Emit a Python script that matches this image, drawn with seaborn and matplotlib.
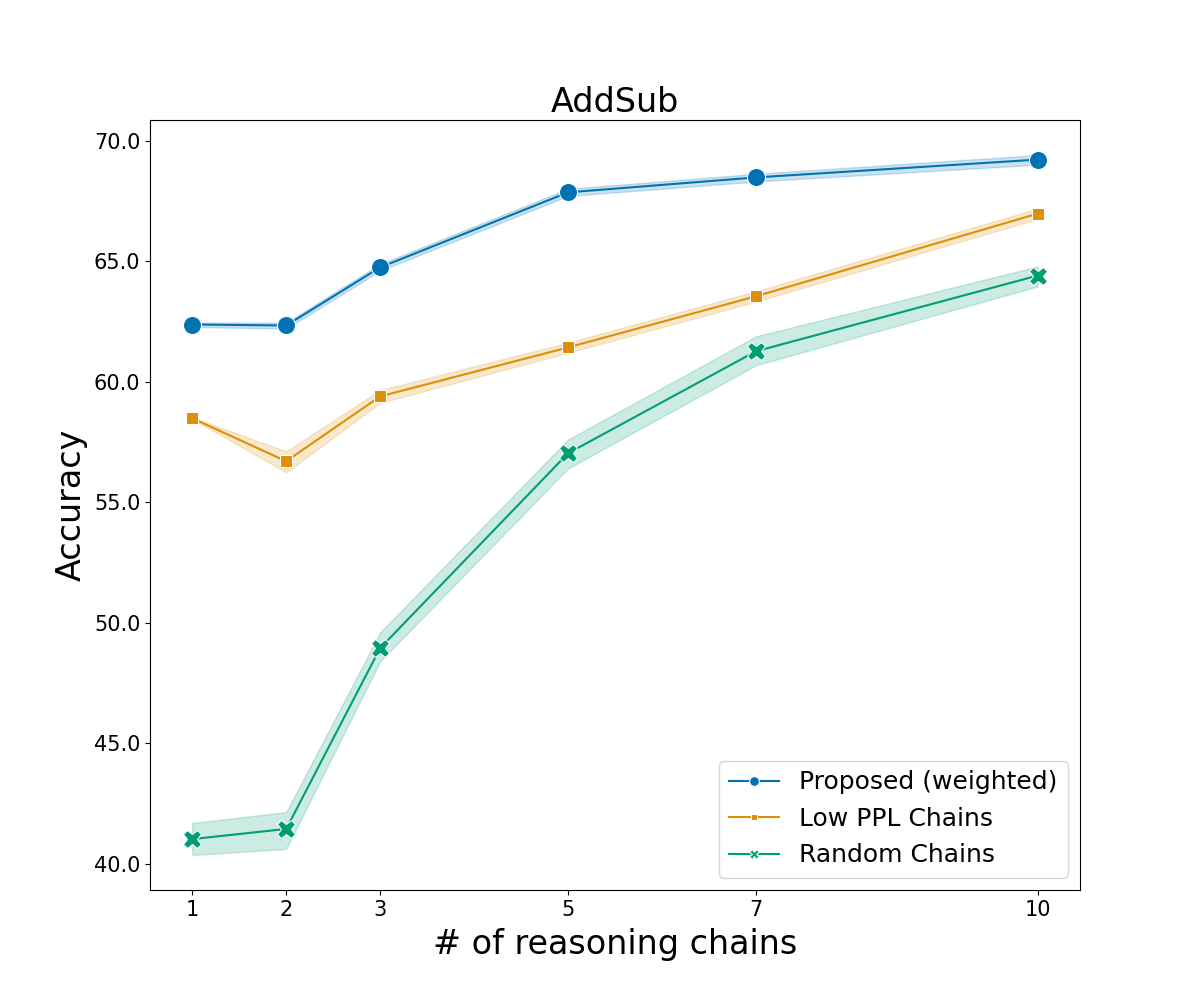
import pandas as pd
import seaborn as sns
import matplotlib.pyplot as plt
from matplotlib.ticker import FormatStrFormatter

# x values (number of reasoning chains)
chains = [1, 2, 3, 5, 7, 10]

# series: centre line, lower and upper edge of the band
proposed_mid = [62.37, 62.33, 64.74, 67.85, 68.47, 69.21]
proposed_lo = [62.27, 62.20, 64.60, 67.70, 68.30, 69.00]
proposed_hi = [62.45, 62.45, 64.88, 68.00, 68.62, 69.40]

lowppl_mid = [58.48, 56.70, 59.39, 61.42, 63.54, 66.97]
lowppl_lo = [58.45, 56.24, 59.12, 61.20, 63.32, 66.75]
lowppl_hi = [58.52, 57.11, 59.65, 61.62, 63.75, 67.18]

random_mid = [41.03, 41.45, 48.95, 57.03, 61.26, 64.40]
random_lo = [40.37, 40.62, 48.40, 56.40, 60.68, 63.95]
random_hi = [41.70, 42.15, 49.60, 57.60, 61.88, 64.78]

methods = ["Proposed (weighted)", "Low PPL Chains", "Random Chains"]

# long table: three observations per point (low, mid, high)
rows = []
for name, lo, mid, hi in [
    (methods[0], proposed_lo, proposed_mid, proposed_hi),
    (methods[1], lowppl_lo, lowppl_mid, lowppl_hi),
    (methods[2], random_lo, random_mid, random_hi),
]:
    for i, x in enumerate(chains):
        for v in (lo[i], mid[i], hi[i]):
            rows.append({"chains": x, "acc": v, "method": name})
df = pd.DataFrame(rows)

fig, ax = plt.subplots(figsize=(12, 10), dpi=100)
sns.lineplot(
    data=df, x="chains", y="acc", hue="method", style="method",
    hue_order=methods, style_order=methods,
    markers=["o", (4, 0, 45), "X"], dashes=False, markersize=13,
    estimator="median", errorbar=("pi", 100),
    palette="colorblind", ax=ax,
)

ax.set_title("AddSub", fontsize=24)
ax.set_xlabel("# of reasoning chains", fontsize=24, labelpad=6)
ax.set_ylabel("Accuracy", fontsize=24)
ax.set_xticks(chains)
ax.yaxis.set_major_formatter(FormatStrFormatter("%.1f"))
ax.tick_params(labelsize=15)
leg = ax.legend(loc="lower right", fontsize=18)
for h in leg.legend_handles:
    h.set_markersize(7)

plt.savefig("out.png")
